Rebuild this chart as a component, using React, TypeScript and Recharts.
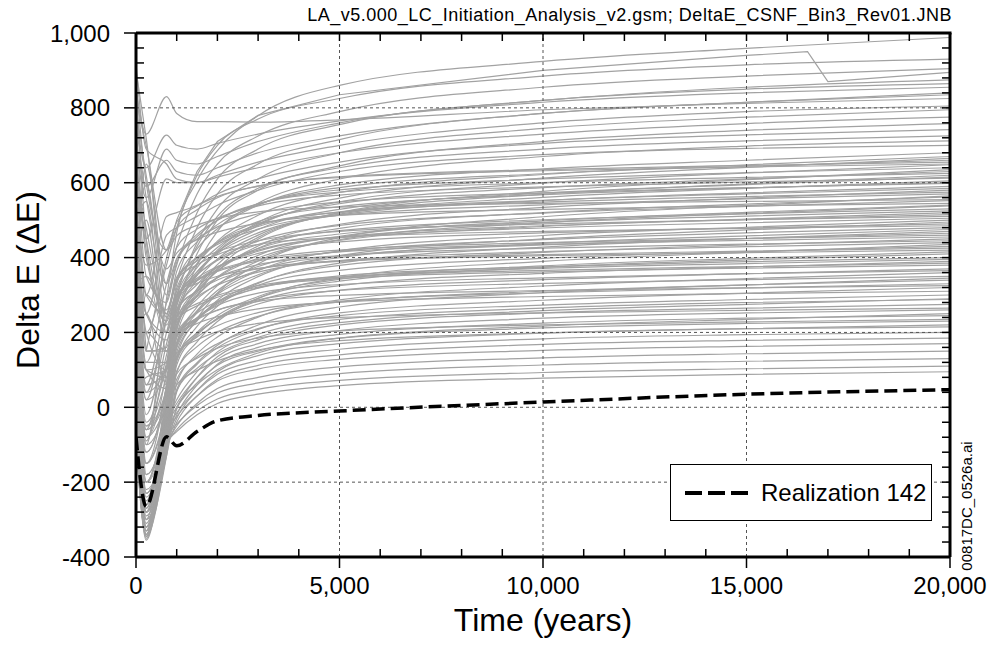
import { LineChart, Line, XAxis, YAxis, ReferenceLine, Legend } from "recharts"

const FONT = "'Liberation Sans', Arial, sans-serif"

const times = [0, 250, 750, 1000, 1500, 2000, 3000, 5000, 10000, 15000, 20000]

const realization142 = [-80, -265, -79, -103, -65, -36, -22, -10, 14, 35, 47]

// runs ending high (above ~690)
const upperRuns = [
  [600, -100, 290, 466, 605, 686, 779, 860, 924, 959, 988],
  [560, 200, 380, 480, 620, 700, 770, 825, 885, 915, 930],
  [850, 730, 830, 785, 763, 763, 762, 768, 795, 812, 825],
  [780, 640, 727, 700, 690, 705, 730, 765, 815, 840, 855],
  [480, 120, 330, 430, 570, 650, 725, 790, 855, 885, 905],
  [700, 560, 690, 660, 650, 670, 710, 760, 820, 855, 875],
  [430, 60, 280, 380, 520, 610, 690, 755, 820, 850, 865],
  [720, 590, 660, 630, 620, 640, 680, 725, 785, 815, 835],
  [380, 20, 240, 340, 480, 570, 650, 715, 785, 815, 840],
  [650, 450, 610, 600, 600, 620, 655, 700, 760, 790, 805],
  [350, -20, 200, 300, 440, 530, 610, 680, 745, 775, 795],
  [920, 690, 650, 610, 600, 615, 640, 680, 730, 758, 775],
  [300, -60, 170, 270, 410, 500, 580, 645, 710, 740, 758],
  [550, 300, 510, 520, 540, 570, 610, 655, 705, 728, 742],
  [420, 40, 230, 310, 430, 510, 585, 640, 690, 712, 725],
  [260, -90, 140, 240, 380, 470, 545, 610, 670, 698, 712],
  [500, 250, 460, 480, 510, 540, 580, 630, 675, 692, 700],
]

// the dense band
const middleRuns = [
  [860, 450, 200, 329, 423, 477, 540, 594, 637, 660, 680],
  [330, -40, 120, 278, 383, 444, 513, 574, 622, 648, 670],
  [640, 300, 250, 363, 442, 488, 541, 587, 624, 644, 660],
  [520, 380, 420, 495, 538, 563, 591, 616, 635, 646, 655],
  [200, -150, 60, 244, 352, 415, 486, 549, 599, 626, 648],
  [760, 560, 330, 397, 462, 500, 543, 581, 610, 627, 640],
  [280, 100, 120, 279, 373, 427, 490, 544, 587, 610, 630],
  [580, -180, -20, 206, 316, 381, 454, 519, 569, 597, 620],
  [360, 650, 330, 427, 476, 505, 538, 567, 589, 602, 612],
  [150, -200, 30, 243, 339, 396, 460, 516, 561, 585, 605],
  [900, 720, 300, 396, 450, 482, 517, 549, 573, 587, 598],
  [470, 200, 100, 280, 362, 411, 466, 514, 552, 573, 590],
  [120, -230, -30, 207, 306, 364, 431, 489, 534, 559, 580],
  [680, 420, 250, 336, 398, 435, 476, 513, 541, 557, 570],
  [170, -100, 20, 219, 311, 364, 425, 478, 520, 543, 562],
  [400, 500, 150, 281, 353, 395, 444, 486, 519, 537, 552],
  [800, 620, 370, 412, 448, 468, 492, 513, 529, 538, 545],
  [140, -220, -60, 170, 268, 325, 391, 448, 493, 518, 538],
  [540, 150, 160, 292, 355, 392, 435, 472, 501, 517, 530],
  [90, -270, 0, 219, 299, 346, 399, 446, 483, 503, 520],
  [330, 350, 250, 348, 391, 416, 445, 470, 490, 501, 510],
  [70, -280, -80, 163, 253, 305, 365, 418, 459, 481, 500],
  [720, 250, 200, 292, 345, 376, 411, 442, 466, 479, 490],
  [250, -50, 50, 219, 289, 329, 376, 416, 448, 466, 480],
  [50, -300, -100, 124, 216, 270, 331, 385, 428, 451, 470],
  [610, 450, 220, 298, 341, 366, 395, 420, 440, 451, 460],
  [110, -240, -40, 158, 236, 281, 333, 379, 414, 434, 450],
  [40, 80, 100, 242, 295, 326, 361, 392, 416, 429, 440],
  [450, -150, 0, 169, 239, 279, 326, 366, 398, 416, 430],
  [80, 300, 230, 299, 331, 350, 371, 390, 405, 413, 420],
  [30, -320, -90, 113, 192, 238, 291, 337, 374, 394, 410],
  [380, 100, 50, 198, 252, 283, 319, 351, 375, 389, 400],
  [60, -280, -60, 125, 195, 237, 284, 325, 358, 375, 390],
  [20, 200, 150, 232, 271, 294, 321, 344, 362, 372, 380],
  [290, -200, -20, 136, 198, 235, 276, 313, 341, 357, 370],
  [50, -290, -110, 63, 142, 188, 241, 287, 324, 344, 360],
  [10, -50, 80, 193, 234, 259, 287, 312, 331, 341, 350],
  [210, -230, -60, 97, 162, 200, 243, 281, 310, 327, 340],
  [30, -150, 0, 137, 188, 218, 253, 283, 306, 319, 330],
  [0, -345, -120, 41, 115, 159, 208, 252, 286, 305, 320],
  [160, 120, 120, 193, 224, 242, 263, 281, 296, 304, 310],
  [20, -310, -70, 75, 135, 170, 210, 245, 273, 288, 300],
]

// more runs through the dense band, some rising faster, some slower
const middleRunsB = [
  [500, 100, 80, 257, 355, 420, 494, 559, 612, 641, 665],
  [870, 600, 420, 479, 528, 560, 591, 614, 632, 642, 650],
  [300, -200, -40, 192, 299, 369, 449, 520, 577, 608, 635],
  [700, 350, 280, 387, 456, 500, 544, 575, 600, 614, 625],
  [230, 20, 100, 282, 362, 415, 475, 529, 572, 595, 615],
  [100, -250, 60, 296, 384, 440, 496, 536, 568, 586, 600],
  [620, 480, 250, 342, 401, 439, 483, 522, 553, 570, 585],
  [350, -80, 100, 318, 393, 440, 487, 521, 548, 563, 575],
  [40, -320, -100, 132, 236, 305, 383, 453, 509, 539, 565],
  [820, 700, 420, 458, 486, 504, 522, 535, 545, 550, 555],
  [180, 250, 60, 220, 297, 348, 406, 457, 498, 521, 540],
  [60, -260, 20, 230, 316, 370, 424, 463, 494, 511, 525],
  [500, 550, 200, 282, 338, 375, 417, 455, 485, 501, 515],
  [280, -120, 60, 256, 328, 374, 420, 453, 479, 493, 505],
  [150, -230, -40, 147, 231, 286, 349, 405, 450, 474, 495],
  [760, 400, 260, 339, 381, 408, 435, 454, 470, 478, 485],
  [90, -60, 30, 187, 256, 302, 354, 400, 438, 458, 475],
  [20, -340, -60, 174, 258, 312, 366, 404, 434, 451, 465],
  [420, 600, 240, 302, 339, 363, 391, 415, 435, 446, 455],
  [200, 40, 110, 257, 311, 346, 381, 405, 425, 436, 445],
  [70, -300, -110, 92, 175, 229, 291, 346, 390, 414, 435],
  [560, 150, 150, 263, 310, 340, 370, 391, 408, 417, 425],
  [120, -180, -30, 132, 200, 245, 296, 342, 378, 398, 415],
  [40, -260, 0, 169, 234, 276, 318, 347, 371, 384, 395],
  [330, 250, 180, 242, 277, 299, 325, 348, 366, 376, 385],
  [10, -120, 40, 188, 239, 272, 305, 328, 346, 357, 365],
  [0, -330, -130, 47, 119, 166, 220, 268, 306, 327, 345],
  [260, 60, 100, 201, 237, 260, 283, 299, 312, 319, 325],
  [30, -280, -90, 45, 104, 143, 187, 226, 258, 275, 290],
  [120, -60, 40, 145, 180, 202, 224, 240, 252, 259, 265],
  [-20, -320, -130, 0, 60, 100, 145, 185, 217, 235, 250],
  [60, -200, -20, 89, 131, 158, 185, 204, 220, 228, 235],
  [150, -80, 0, 60, 98, 124, 153, 178, 199, 210, 220],
]

// runs ending low
const lowerRuns = [
  [70, -270, -40, 20, 95, 148, 195, 235, 265, 280, 288],
  [0, -330, -80, -5, 80, 135, 180, 220, 252, 265, 275],
  [60, -260, -40, 10, 80, 128, 170, 205, 238, 252, 260],
  [-20, -340, -90, -20, 60, 115, 160, 195, 225, 238, 245],
  [40, -280, -50, 0, 65, 112, 150, 185, 212, 224, 230],
  [-40, -350, -100, -30, 45, 95, 138, 170, 198, 210, 215],
  [20, -300, -60, -15, 45, 88, 125, 155, 183, 194, 200],
  [-60, -355, -110, -40, 30, 75, 112, 140, 168, 179, 185],
  [0, -320, -70, -25, 30, 70, 102, 128, 152, 163, 170],
  [-80, -340, -100, -50, 10, 50, 80, 108, 132, 143, 150],
  [-30, -330, -80, -45, 5, 38, 65, 90, 113, 123, 130],
  [-90, -345, -100, -60, -10, 22, 48, 72, 93, 103, 110],
  [-100, -340, -95, -65, -20, 10, 35, 58, 78, 88, 95],
]

// one run with a drop near 17,000 yrs
const jumpTimes = [0, 250, 750, 1000, 1500, 2000, 3000, 5000, 10000, 15000, 16500, 17000, 20000]
const jumpRun = [500, 150, 400, 500, 630, 710, 780, 835, 900, 940, 950, 870, 895]

// every tick on the frame; labels only on the majors
const xTicks = [0, 1000, 2000, 3000, 4000, 5000, 6000, 7000, 8000, 9000, 10000, 11000, 12000, 13000, 14000, 15000, 16000, 17000, 18000, 19000, 20000]
const xGrid = [5000, 10000, 15000]
const yTicks = [-400, -360, -320, -280, -240, -200, -160, -120, -80, -40, 0, 40, 80, 120, 160, 200, 240, 280, 320, 360, 400, 440, 480, 520, 560, 600, 640, 680, 720, 760, 800, 840, 880, 920, 960, 1000]
const yGrid = [-200, 0, 200, 400, 600, 800]

const grayRuns = [...upperRuns, ...middleRuns, ...middleRunsB, ...lowerRuns]

const rows = times.map((t, i) => {
  const row: Record<string, number> = { t, r142: realization142[i] }
  grayRuns.forEach((run, k) => {
    row[`g${k}`] = run[i]
  })
  return row
})

const jumpRows = jumpTimes.map((t, i) => ({ t, jump: jumpRun[i] }))

const fmt = (v: number) => v.toLocaleString("en-US")

// layout
const W = 1000
const H = 647
const M_TOP = 33
const M_RIGHT = 50
const X_AXIS_H = 90
const Y_AXIS_W = 136
const PLOT_W = W - M_RIGHT - Y_AXIS_W
const PLOT_H = H - M_TOP - X_AXIS_H
const X_TICK = 11
const X_GAP = 9
const Y_TICK = 12
const Y_GAP = 14
const MINOR = 8

const GRAY = "#a2a2a2"
const tickText = { fontSize: 24, fill: "#000", fontFamily: FONT }
const frame = { stroke: "#000", strokeWidth: 3 }

function XTick(props: any) {
  const { x, y, payload } = props
  const v = payload.value
  const axisY = y - X_TICK - X_GAP
  const top = axisY - PLOT_H
  const major = v % 5000 === 0
  const edge = v === 0 || v === 20000
  return (
    <g stroke="#000" strokeWidth={1.5}>
      {major ? (
        <line x1={x} y1={axisY} x2={x} y2={axisY + X_TICK} />
      ) : (
        <line x1={x} y1={axisY} x2={x} y2={axisY - MINOR} />
      )}
      {!edge && <line x1={x} y1={top} x2={x} y2={top + MINOR} />}
      {major && (
        <text x={x} y={y} dy="0.71em" textAnchor="middle" stroke="none" style={tickText}>
          {fmt(v)}
        </text>
      )}
    </g>
  )
}

function YTick(props: any) {
  const { x, y, payload } = props
  const v = payload.value
  const axisX = x + Y_TICK + Y_GAP
  const right = axisX + PLOT_W
  const major = v % 200 === 0
  const edge = v === -400 || v === 1000
  return (
    <g stroke="#000" strokeWidth={1.5}>
      {major ? (
        <line x1={axisX - Y_TICK} y1={y} x2={axisX} y2={y} />
      ) : (
        <line x1={axisX} y1={y} x2={axisX + MINOR} y2={y} />
      )}
      {!edge && <line x1={right} y1={y} x2={right - MINOR} y2={y} />}
      {major && (
        <text x={x} y={y} dy="0.355em" textAnchor="end" stroke="none" style={tickText}>
          {fmt(v)}
        </text>
      )}
    </g>
  )
}

// x-axis title, plus the top and right sides of the frame
function XTitle() {
  const left = Y_AXIS_W
  const top = M_TOP
  const right = Y_AXIS_W + PLOT_W
  const bottom = M_TOP + PLOT_H
  return (
    <g>
      <line x1={left} y1={top} x2={right + 1.5} y2={top} {...frame} />
      <line x1={right} y1={top} x2={right} y2={bottom} {...frame} />
      <text
        x={left + PLOT_W / 2}
        y={H - 16}
        textAnchor="middle"
        style={{ fontSize: 32, fill: "#000", fontFamily: FONT }}
      >
        Time (years)
      </text>
    </g>
  )
}

function YTitle() {
  const cx = 28
  const cy = M_TOP + PLOT_H / 2 - 15
  return (
    <text
      x={cx}
      y={cy}
      transform={`rotate(-90, ${cx}, ${cy})`}
      textAnchor="middle"
      dominantBaseline="central"
      style={{ fontSize: 32, fill: "#000", fontFamily: FONT }}
    >
      Delta E (ΔE)
    </text>
  )
}

function LegendBox() {
  return (
    <div
      style={{
        width: 260,
        height: 55,
        border: "1.5px solid #000",
        background: "#fff",
        display: "flex",
        alignItems: "center",
        fontFamily: FONT,
        fontSize: 24,
        color: "#000",
      }}
    >
      <svg width={90} height={20} style={{ marginLeft: 14 }}>
        <line x1={0} y1={10} x2={64} y2={10} stroke="#000" strokeWidth={4} strokeDasharray="17 6" />
      </svg>
      <span style={{ marginLeft: -14 }}>Realization 142</span>
    </div>
  )
}

export default function App() {
  return (
    <div style={{ position: "absolute", left: 0, top: 0, width: W, height: H, background: "#fff" }}>
      <LineChart width={W} height={H} data={rows} margin={{ top: M_TOP, right: M_RIGHT, bottom: 0, left: 0 }}>
        <XAxis
          type="number"
          dataKey="t"
          domain={[0, 20000]}
          allowDataOverflow
          ticks={xTicks}
          interval={0}
          height={X_AXIS_H}
          tickSize={X_TICK}
          tickMargin={X_GAP}
          tick={<XTick />}
          tickLine={false}
          axisLine={frame}
          label={{ content: <XTitle /> }}
        />
        <YAxis
          type="number"
          domain={[-400, 1000]}
          allowDataOverflow
          ticks={yTicks}
          interval={0}
          width={Y_AXIS_W}
          tickSize={Y_TICK}
          tickMargin={Y_GAP}
          tick={<YTick />}
          tickLine={false}
          axisLine={frame}
          label={{ content: <YTitle /> }}
        />
        {grayRuns.map((_, k) => (
          <Line
            key={k}
            type="monotone"
            dataKey={`g${k}`}
            stroke={GRAY}
            strokeWidth={1.2}
            dot={false}
            legendType="none"
            isAnimationActive={false}
          />
        ))}
        <Line
          data={jumpRows}
          dataKey="jump"
          stroke={GRAY}
          strokeWidth={1.2}
          dot={false}
          legendType="none"
          isAnimationActive={false}
        />
        {xGrid.map((v) => (
          <ReferenceLine key={`x${v}`} x={v} stroke="#555" strokeDasharray="3 3" strokeWidth={1} />
        ))}
        {yGrid.map((v) => (
          <ReferenceLine key={`y${v}`} y={v} stroke="#555" strokeDasharray="3 3" strokeWidth={1} />
        ))}
        <Line
          type="monotone"
          dataKey="r142"
          name="Realization 142"
          stroke="#000"
          strokeWidth={3.5}
          strokeDasharray="13 6"
          dot={false}
          isAnimationActive={false}
        />
        <Legend
          layout="horizontal"
          verticalAlign="middle"
          align="center"
          content={() => <LegendBox />}
          wrapperStyle={{ position: "absolute", left: 670, top: 464, width: 262, height: 57 }}
        />
      </LineChart>
      <div
        style={{
          position: "absolute",
          right: 48,
          top: 5,
          fontFamily: FONT,
          fontSize: 18,
          letterSpacing: 0.5,
          color: "#000",
          whiteSpace: "nowrap",
        }}
      >
        LA_v5.000_LC_Initiation_Analysis_v2.gsm; DeltaE_CSNF_Bin3_Rev01.JNB
      </div>
      <div
        style={{
          position: "absolute",
          left: 966,
          top: 506,
          fontFamily: FONT,
          fontSize: 15,
          color: "#000",
          whiteSpace: "nowrap",
          transform: "translate(-50%, -50%) rotate(-90deg)",
        }}
      >
        00817DC_0526a.ai
      </div>
    </div>
  )
}
